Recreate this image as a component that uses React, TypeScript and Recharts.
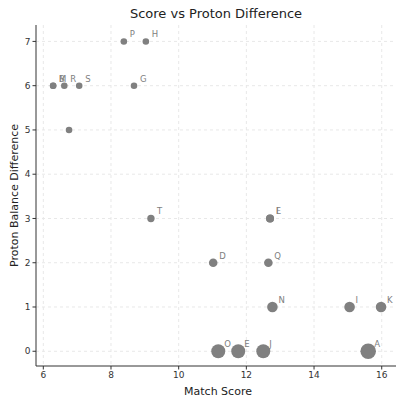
import React from 'react';
import { ScatterChart, Scatter, XAxis, YAxis, ZAxis, CartesianGrid } from 'recharts';

const names = ['B', 'M', 'R', 'S', 'C', 'P', 'H', 'G', 'T', 'F', 'L', 'D', 'Q', 'N', 'I', 'K', 'O', 'E', 'J', 'A'];
const labels = ['B', 'M', 'R', 'S', '', 'P', 'H', 'G', 'T', 'F', 'L', 'D', 'Q', 'N', 'I', 'K', 'O', 'E', 'J', 'A'];
const matchScore = [6.29, 6.29, 6.62, 7.06, 6.76, 8.38, 9.03, 8.68, 9.18, 12.7, 12.7, 11.02, 12.65, 12.77, 15.05, 15.98, 11.17, 11.76, 12.5, 15.6];
const protonDiff = [6, 6, 6, 6, 5, 7, 7, 6, 3, 3, 3, 2, 2, 1, 1, 1, 0, 0, 0, 0];
const markerArea = [34, 34, 34, 34, 34, 34, 34, 34, 43, 50, 50, 58, 58, 88, 88, 88, 154, 154, 154, 191];

const xTicks = [6, 8, 10, 12, 14, 16];
const yTicks = [0, 1, 2, 3, 4, 5, 6, 7];

const data = names.map((n, i) => ({ name: n, label: labels[i], x: matchScore[i], y: protonDiff[i], z: markerArea[i] }));

const FONT = '"DejaVu Sans", sans-serif';

const Dot = (props: any) => {
  const { cx, cy, size, payload } = props;
  const r = Math.sqrt((size ?? 34) / Math.PI);
  return (
    <g>
      <circle cx={cx} cy={cy} r={r} fill="#808080" />
      {payload.label ? (
        <text x={cx + 6} y={cy - 4} fontSize={8.5} fill="#808080" fontFamily={FONT}>
          {payload.label}
        </text>
      ) : null}
    </g>
  );
};

export default function App() {
  return (
    <div style={{ position: 'absolute', left: 0, top: 0, width: 396, height: 399, overflow: 'hidden', background: '#fff' }}>
      <div
        style={{
          position: 'absolute',
          left: 36,
          width: 360,
          top: 6,
          textAlign: 'center',
          fontFamily: FONT,
          fontSize: 13,
          lineHeight: '16px',
          color: '#222',
        }}
      >
        Score vs Proton Difference
      </div>
      <ScatterChart width={410} height={399} margin={{ top: 25, right: 10, bottom: 0, left: 0 }}>
        <CartesianGrid stroke="#e8e8e8" strokeDasharray="3 3" horizontalValues={yTicks} verticalValues={xTicks} />
        <XAxis
          type="number"
          dataKey="x"
          domain={[5.784, 16.54]}
          ticks={xTicks}
          allowDataOverflow
          height={33}
          tickSize={3.5}
          stroke="#333"
          tick={{ fontSize: 9, fill: '#333', fontFamily: FONT }}
          label={{ value: 'Match Score', position: 'insideBottom', offset: 4, style: { fontSize: 11, fill: '#222', fontFamily: FONT } }}
        />
        <XAxis xAxisId="top" orientation="top" type="number" domain={[5.784, 16.54]} height={0} tick={false} tickLine={false} stroke="#333" />
        <YAxis
          type="number"
          dataKey="y"
          domain={[-0.333, 7.371]}
          ticks={yTicks}
          allowDataOverflow
          width={36}
          tickSize={3.5}
          stroke="#333"
          tick={{ fontSize: 9, fill: '#333', fontFamily: FONT }}
          label={{ value: 'Proton Balance Difference', angle: -90, position: 'insideLeft', offset: 14, style: { fontSize: 11, fill: '#222', fontFamily: FONT, textAnchor: 'middle' } }}
        />
        <ZAxis type="number" dataKey="z" domain={[34, 191]} range={[34, 191]} />
        <Scatter data={data} shape={Dot} isAnimationActive={false} />
      </ScatterChart>
    </div>
  );
}
